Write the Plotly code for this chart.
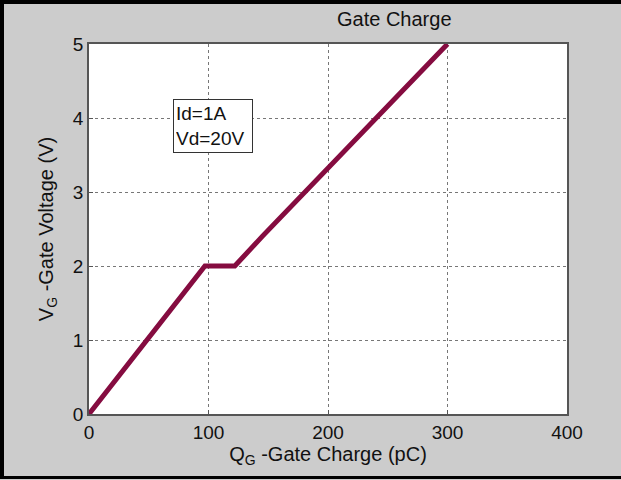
import plotly.graph_objects as go

charge_pc = [0, 97, 122, 145, 300]
gate_v = [0, 2.0, 2.0, 2.4, 5.0]
x_ticks = [0, 100, 200, 300, 400]
y_ticks = [0, 1, 2, 3, 4, 5]

W, H = 621, 480
L, R, T, B = 89, 54, 44, 66
pw, ph = W - L - R, H - T - B
FONT = "Liberation Sans, Arial, sans-serif"


def px(x):
    return (x - L) / pw


def py(y):
    return 1 - (y - T) / ph


fig = go.Figure()
fig.add_trace(go.Scatter(x=charge_pc, y=gate_v, mode="lines",
                         line=dict(color="#850c40", width=5), showlegend=False))

axis_common = dict(showline=True, linecolor="#555555", linewidth=1.5, mirror=True,
                   showgrid=True, gridcolor="#777777", gridwidth=1, griddash="dot",
                   zeroline=False, ticks="inside", ticklen=4, tickcolor="#555555",
                   tickfont=dict(family=FONT, size=19, color="#111111"))

fig.update_xaxes(range=[0, 400], tickvals=x_ticks, **axis_common,
                 title=dict(text="Q<sub>G</sub> -Gate Charge (pC)", standoff=2,
                            font=dict(family=FONT, size=20, color="#111111")))
fig.update_yaxes(range=[0, 5], tickvals=y_ticks, **axis_common,
                 title=dict(text="V<sub>G</sub> -Gate Voltage (V)", standoff=14,
                            font=dict(family=FONT, size=20, color="#111111")))

fig.add_annotation(x=px(173), y=py(99), xref="paper", yref="paper", text="Id=1A<br>Vd=20V",
                   showarrow=False, align="left", xanchor="left", yanchor="top",
                   width=74, height=48,
                   font=dict(family=FONT, size=19, color="#111111"),
                   bgcolor="white", bordercolor="#333333", borderwidth=1, borderpad=2)

fig.add_annotation(x=px(394), y=py(19), xref="paper", yref="paper",
                   text="Gate Charge", showarrow=False, xanchor="center", yanchor="middle",
                   font=dict(family=FONT, size=20, color="#111111"))

# outer black frame pieces (left, top, bottom)
for x0, y0, x1, y1 in [(0, 0, 4, 479), (0, 0, W, 4), (0, 476, W, 479)]:
    fig.add_shape(type="rect", xref="paper", yref="paper",
                  x0=px(x0), x1=px(x1), y0=py(y1), y1=py(y0),
                  line=dict(width=0), fillcolor="black", layer="below")

fig.update_layout(width=W, height=H, margin=dict(l=L, r=R, t=T, b=B),
                  paper_bgcolor="#cccccc", plot_bgcolor="white")

fig.write_html("out.html", config={"displayModeBar": False},
               post_script="document.body.style.margin='0';document.body.style.padding='0';")
